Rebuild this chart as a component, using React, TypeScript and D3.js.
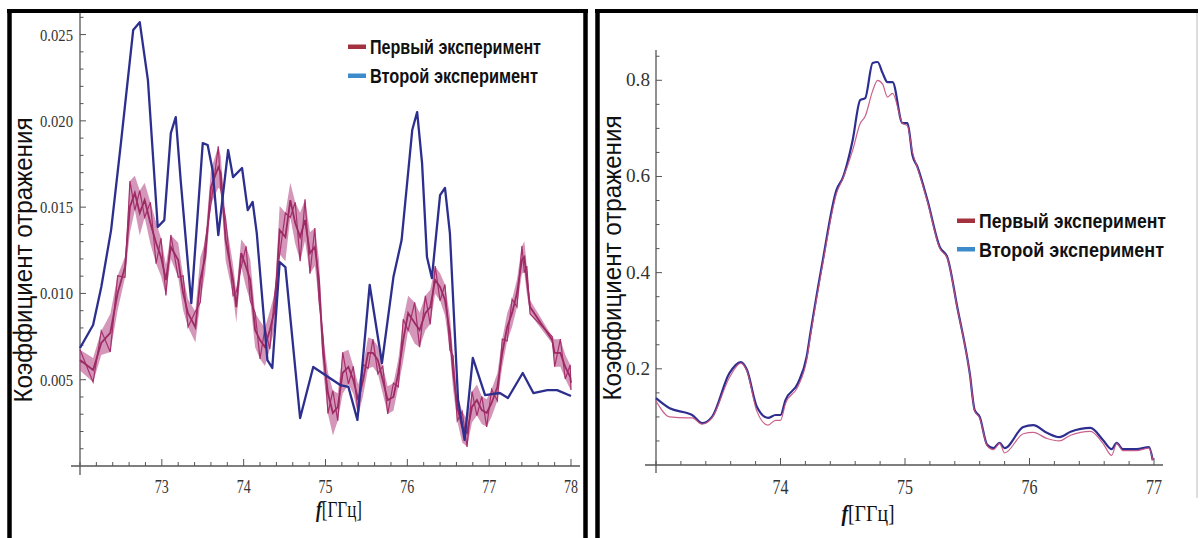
import * as d3 from "d3";
import React from "react";

// ---- left chart: reflection coefficient, 72..78 GHz ----
const leftRedF = [
  72.0, 72.16, 72.26, 72.37, 72.46, 72.55, 72.61, 72.67, 72.73, 72.79, 72.86, 72.93, 72.99, 73.05, 73.11,
  73.2, 73.26, 73.32, 73.41, 73.47, 73.53, 73.6, 73.69, 73.72, 73.78, 73.87, 73.91, 73.97, 74.03, 74.08,
  74.14, 74.2, 74.26, 74.32, 74.38, 74.44, 74.51, 74.57, 74.63, 74.69, 74.75, 74.81, 74.87, 74.92, 74.97,
  75.03, 75.09, 75.15, 75.21, 75.28, 75.34, 75.4, 75.46, 75.52, 75.58, 75.64, 75.7, 75.76, 75.83, 75.89,
  75.95, 76.01, 76.09, 76.15, 76.22, 76.28, 76.34, 76.4, 76.46, 76.52, 76.56, 76.61, 76.67, 76.73, 76.79,
  76.85, 76.91, 76.97, 77.03, 77.1, 77.16, 77.22, 77.28, 77.34, 77.4, 77.43, 77.46, 77.5, 77.77, 77.8,
  77.87, 77.93, 77.99, 78.0,
];
const leftRedV = [
  0.00614, 0.00556, 0.00713, 0.00771, 0.01002, 0.01153, 0.01501, 0.01582, 0.01466, 0.01541, 0.01408, 0.01292,
  0.01211, 0.01078, 0.01269, 0.01194, 0.01002, 0.00886, 0.00805, 0.01078, 0.01211, 0.01616, 0.01732, 0.01698,
  0.01309, 0.01078, 0.00921, 0.01234, 0.01153, 0.01078, 0.00788, 0.0073, 0.00689, 0.00788, 0.00904, 0.01367,
  0.01327, 0.01541, 0.01408, 0.01327, 0.01425, 0.01234, 0.01269, 0.01078, 0.00655, 0.00423, 0.00307, 0.00342,
  0.00539, 0.00574, 0.00498, 0.00382, 0.00498, 0.00655, 0.00655, 0.00614, 0.00498, 0.00382, 0.004, 0.00539,
  0.0073, 0.00886, 0.00828, 0.00788, 0.00886, 0.00921, 0.01078, 0.01037, 0.00962, 0.00771, 0.00539, 0.00342,
  0.00226, 0.00191, 0.00342, 0.00382, 0.00324, 0.00307, 0.00365, 0.00458, 0.00655, 0.00805, 0.00886, 0.01002,
  0.01194, 0.01211, 0.01078, 0.00921, 0.0073, 0.00655, 0.00655, 0.00574, 0.00516, 0.00481,
];
// half width of the noise band around the first experiment
const leftRedSpread = [
  0.0006, 0.0007, 0.0007, 0.0011, 0.001, 0.0006, 0.0015, 0.001, 0.0013, 0.001, 0.0012, 0.0012, 0.0011, 0.0009,
  0.0007, 0.001, 0.001, 0.0008, 0.0009, 0.0013, 0.0009, 0.001, 0.0012, 0.001, 0.0012, 0.0009, 0.0009, 0.0008,
  0.0012, 0.0012, 0.001, 0.0011, 0.0011, 0.0011, 0.001, 0.0014, 0.0014, 0.001, 0.0012, 0.0014, 0.0012, 0.0012,
  0.0011, 0.0012, 0.001, 0.0012, 0.0013, 0.0008, 0.0012, 0.001, 0.0008, 0.0009, 0.0009, 0.0009, 0.0008, 0.0008,
  0.0008, 0.0008, 0.0008, 0.0008, 0.0012, 0.001, 0.0012, 0.001, 0.001, 0.001, 0.0008, 0.0008, 0.0009, 0.001,
  0.001, 0.0008, 0.0009, 0.0008, 0.0009, 0.0009, 0.0008, 0.0008, 0.0008, 0.0008, 0.0008, 0.0008, 0.0008, 0.0008,
  0.0008, 0.0009, 0.0008, 0.0004, 0.0002, 0.0008, 0.0008, 0.0007, 0.0007, 0.0004,
];
const leftBlueF = [
  72.0, 72.16, 72.26, 72.38, 72.5, 72.65, 72.73, 72.83, 72.95, 73.03, 73.11, 73.17, 73.23, 73.36, 73.5, 73.56,
  73.62, 73.69, 73.81, 73.87, 73.98, 74.05, 74.11, 74.16, 74.29, 74.35, 74.44, 74.51, 74.69, 74.85, 75.18,
  75.28, 75.39, 75.54, 75.69, 75.83, 75.93, 76.06, 76.12, 76.18, 76.24, 76.3, 76.4, 76.46, 76.52, 76.62, 76.7,
  76.8, 76.95, 77.13, 77.23, 77.41, 77.54, 77.71, 77.83, 78.0,
];
const leftBlueV = [
  0.00684, 0.00817, 0.01037, 0.01367, 0.01871, 0.02526, 0.02572, 0.02236, 0.01385, 0.01425, 0.01929, 0.02022,
  0.01657, 0.00944, 0.01871, 0.0186, 0.01715, 0.01338, 0.01831, 0.01674, 0.01727, 0.01483, 0.0153, 0.0135,
  0.00614, 0.00568, 0.01182, 0.01153, 0.00278, 0.00574, 0.00469, 0.00458, 0.00267, 0.01049, 0.00597, 0.01095,
  0.01309, 0.01947, 0.02051, 0.01755, 0.01211, 0.01089, 0.0157, 0.01611, 0.0135, 0.00382, 0.00151, 0.00626,
  0.00411, 0.00423, 0.00394, 0.00539, 0.00423, 0.0044, 0.0044, 0.00406,
];
const leftXTicks = [73, 74, 75, 76, 77, 78];
const leftYTicks = [0.005, 0.01, 0.015, 0.02, 0.025];

// ---- right chart: 73..77 GHz ----
const rightF = [
  73.0, 73.11, 73.25, 73.29, 73.37, 73.45, 73.59, 73.68, 73.73, 73.81, 73.9, 73.96, 74.0, 74.04, 74.14, 74.21,
  74.24, 74.34, 74.45, 74.5, 74.58, 74.64, 74.68, 74.74, 74.78, 74.82, 74.86, 74.9, 74.98, 75.02, 75.06, 75.1,
  75.18, 75.28, 75.34, 75.42, 75.52, 75.56, 75.6, 75.66, 75.71, 75.76, 75.8, 75.95, 76.03, 76.14, 76.24, 76.33,
  76.49, 76.59, 76.66, 76.7, 76.75, 76.86, 76.96, 76.99,
];
const rightBlue = [
  0.139, 0.118, 0.108, 0.104, 0.087, 0.1, 0.191, 0.214, 0.198, 0.121, 0.098, 0.104, 0.104, 0.135, 0.17, 0.225,
  0.274, 0.426, 0.572, 0.597, 0.676, 0.759, 0.763, 0.836, 0.838, 0.815, 0.796, 0.796, 0.711, 0.711, 0.644, 0.62,
  0.551, 0.453, 0.432, 0.328, 0.191, 0.114, 0.1, 0.042, 0.035, 0.046, 0.035, 0.079, 0.083, 0.067, 0.058, 0.069,
  0.077, 0.052, 0.033, 0.046, 0.033, 0.033, 0.037, 0.01,
];
const rightRed = [
  0.133, 0.1, 0.098, 0.098, 0.085, 0.098, 0.182, 0.212, 0.196, 0.112, 0.083, 0.093, 0.093, 0.128, 0.163, 0.218,
  0.268, 0.42, 0.565, 0.595, 0.655, 0.71, 0.725, 0.778, 0.8, 0.792, 0.765, 0.773, 0.711, 0.705, 0.65, 0.618,
  0.548, 0.45, 0.43, 0.326, 0.19, 0.112, 0.098, 0.04, 0.032, 0.045, 0.025, 0.065, 0.068, 0.055, 0.05, 0.062,
  0.07, 0.045, 0.02, 0.045, 0.03, 0.03, 0.035, 0.01,
];
const rightXTicks = [74, 75, 76, 77];
const rightYTicks = [0.2, 0.4, 0.6, 0.8];

const legendNames = ["Первый эксперимент", "Второй эксперимент"];
const legendColors = ["#a3323e", "#3d8bcb"];
const yTitle = "Коэффициент отражения";

const serif = "'Liberation Serif', 'Times New Roman', serif";
const sans = "'Liberation Sans', Arial, sans-serif";
const narrow = "'Liberation Sans Narrow', 'Liberation Sans', Arial, sans-serif";
const axisColor = "#555";

const Axes = ({ x, y, xMajor, xStep, yMajor, yStep, yFmt, xLab, yLab, xExt, yExt }) => {
  const [x0, x1] = x.domain();
  const [, y1] = y.domain();
  const xMinor = d3.range(x0, x1 + 1e-9, xStep);
  const yMinor = d3.range(yStep, y1, yStep);
  const isMajor = (v, arr) => arr.some((m) => Math.abs(m - v) < 1e-9);
  return (
    <g>
      <line x1={x.range()[0] - xExt[0]} x2={x.range()[1] + xExt[1]} y1={y(0)} y2={y(0)} stroke={axisColor} strokeWidth={1.3} />
      <line x1={x(x0)} x2={x(x0)} y1={y(y1)} y2={y(0) + yExt} stroke={axisColor} strokeWidth={1.3} />
      {xMinor.map((v, i) => {
        const big = isMajor(v, xMajor);
        return <line key={"xt" + i} x1={x(v)} x2={x(v)} y1={y(0)} y2={y(0) - (big ? 7 : 4)} stroke={axisColor} strokeWidth={1} />;
      })}
      {yMinor.map((v, i) => {
        const big = isMajor(v, yMajor);
        return <line key={"yt" + i} x1={x(x0)} x2={x(x0) + (big ? 6 : 3.5)} y1={y(v)} y2={y(v)} stroke={axisColor} strokeWidth={1} />;
      })}
      {xMajor.map((v) => (
        <text key={"xl" + v} x={x(v)} y={y(0) + xLab.dy} textAnchor="middle" fontFamily={serif} fontSize={xLab.size}
          textLength={xLab.len} lengthAdjust="spacingAndGlyphs" fill="#333">{v}</text>
      ))}
      {yMajor.map((v) => (
        <text key={"yl" + v} x={x(x0) - yLab.dx} y={y(v) + yLab.dy} textAnchor="end" fontFamily={serif} fontSize={yLab.size}
          textLength={yLab.len} lengthAdjust="spacingAndGlyphs" fill="#333">{yFmt(v)}</text>
      ))}
    </g>
  );
};

const Legend = ({ x0, y0, gap, len }) => (
  <g>
    {legendNames.map((n, i) => (
      <g key={n}>
        <rect x={x0} y={y0 + i * gap - 2.5} width={18} height={4.5} fill={legendColors[i]} />
        <text x={x0 + 22} y={y0 + i * gap + 7} fontFamily={narrow} fontWeight="bold" fontSize={21}
          textLength={len[i]} lengthAdjust="spacingAndGlyphs" fill="#111">{n}</text>
      </g>
    ))}
  </g>
);

const XTitle = ({ cx, y, w }) => (
  <text x={cx} y={y} textAnchor="middle" fontFamily={serif} fontSize={23} textLength={w} lengthAdjust="spacingAndGlyphs" fill="#111">
    <tspan fontStyle="italic" fontWeight="bold">f</tspan>
    <tspan>[ГГц]</tspan>
  </text>
);

const YTitle = ({ cx, cy, len }) => (
  <text transform={`translate(${cx},${cy}) rotate(-90)`} textAnchor="middle" dominantBaseline="central" fontFamily={sans}
    fontSize={26} textLength={len} lengthAdjust="spacingAndGlyphs" fill="#111">{yTitle}</text>
);

export default function App() {
  // left panel scales
  const xl = d3.scaleLinear().domain([72, 78]).range([80, 571]);
  const yl = d3.scaleLinear().domain([0, 0.02625]).range([466, 13]);
  // right panel scales
  const xr = d3.scaleLinear().domain([73, 77]).range([656, 1154]);
  const yr = d3.scaleLinear().domain([0, 0.863]).range([465, 50]);

  const idx = d3.range(leftRedF.length);
  const redBand = d3.area<number>()
    .x((i) => xl(leftRedF[i]))
    .y0((i) => yl(leftRedV[i] - leftRedSpread[i]))
    .y1((i) => yl(leftRedV[i] + leftRedSpread[i]));
  const redMid = d3.line<number>().x((i) => xl(leftRedF[i])).y((i) => yl(leftRedV[i]));
  // jagged trace alternating between the read upper and lower edges of the band
  const redJag = d3.line<number>()
    .x((i) => xl(leftRedF[i]))
    .y((i) => yl(leftRedV[i] + (i % 2 ? -1 : 1) * leftRedSpread[i]));
  const blueL = d3.line<number>().x((i) => xl(leftBlueF[i])).y((i) => yl(leftBlueV[i]));

  const ri = d3.range(rightF.length);
  const rLine = (vals) => d3.line<number>().x((i) => xr(rightF[i])).y((i) => yr(vals[i])).curve(d3.curveMonotoneX)(ri);

  return (
    <svg width={1203} height={538} style={{ position: "absolute", left: 0, top: 0, background: "#fff" }}>
      <rect width={1203} height={538} fill="#fff" />

      {/* panel frames */}
      <line x1={9.5} x2={9.5} y1={9} y2={540} stroke="#000" strokeWidth={4.5} />
      <line x1={7} x2={588} y1={11} y2={11} stroke="#000" strokeWidth={4} />
      <line x1={585.5} x2={585.5} y1={9} y2={540} stroke="#000" strokeWidth={4.5} />
      <line x1={597.5} x2={597.5} y1={9} y2={540} stroke="#000" strokeWidth={4.5} />
      <line x1={595} x2={1198} y1={11} y2={11} stroke="#000" strokeWidth={4} />
      <line x1={1197} x2={1197} y1={13} y2={498} stroke="#bbb" strokeWidth={1} />

      {/* left chart */}
      <Axes x={xl} y={yl} xMajor={leftXTicks} xStep={0.2} yMajor={leftYTicks} yStep={0.001} yFmt={d3.format(".3f")}
        xLab={{ dy: 27, size: 19, len: 14 }} yLab={{ dx: 7, dy: 6, size: 17, len: 33 }} xExt={[9, 9]} yExt={9} />
      <path d={redBand(idx)} fill="#b8508a" fillOpacity={0.6} />
      <path d={redJag(idx)} fill="none" stroke="#a5306c" strokeWidth={1.2} />
      <path d={redMid(idx)} fill="none" stroke="#9c2a63" strokeWidth={1.8} />
      <path d={blueL(d3.range(leftBlueF.length))} fill="none" stroke="#2c2f8e" strokeWidth={2.3} strokeLinejoin="round" />
      <Legend x0={348} y0={47} gap={29} len={[171, 168]} />
      <XTitle cx={339} y={517} w={46} />
      <YTitle cx={23} cy={260} len={285} />

      {/* right chart */}
      <Axes x={xr} y={yr} xMajor={rightXTicks} xStep={0.2} yMajor={rightYTicks} yStep={0.05} yFmt={d3.format(".1f")}
        xLab={{ dy: 29, size: 20, len: 16 }} yLab={{ dx: 6, dy: 6, size: 18, len: 24 }} xExt={[11, 9]} yExt={8} />
      <path d={rLine(rightBlue)} fill="none" stroke="#2e2e90" strokeWidth={2.2} />
      <path d={rLine(rightRed)} fill="none" stroke="#c4507e" strokeWidth={1.2} strokeOpacity={0.9} />
      <Legend x0={957} y0={221} gap={28.5} len={[187, 185]} />
      <XTitle cx={868} y={521} w={53} />
      <YTitle cx={612} cy={258} len={285} />
    </svg>
  );
}
